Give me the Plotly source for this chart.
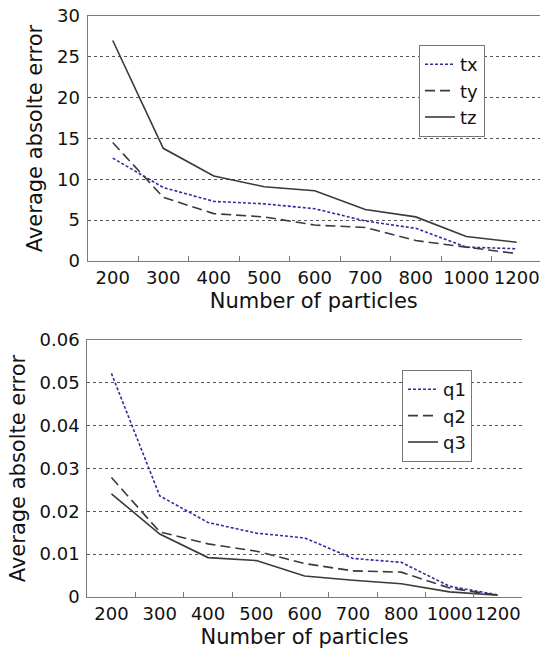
import plotly.graph_objects as go

categories = ["200", "300", "400", "500", "600", "700", "800", "1000", "1200"]

tx = [12.6, 9.0, 7.3, 7.0, 6.4, 4.9, 4.0, 1.7, 1.5]
ty = [14.5, 7.8, 5.8, 5.4, 4.4, 4.1, 2.5, 1.7, 0.9]
tz = [27.0, 13.8, 10.4, 9.1, 8.6, 6.3, 5.4, 3.0, 2.3]

q1 = [0.0522, 0.0236, 0.0174, 0.0149, 0.0138, 0.0090, 0.0081, 0.0025, 0.0005]
q2 = [0.0279, 0.0152, 0.0124, 0.0107, 0.0078, 0.0061, 0.0058, 0.0021, 0.0004]
q3 = [0.0241, 0.0147, 0.0092, 0.0085, 0.0049, 0.0039, 0.0031, 0.0012, 0.0004]

top_ticks = [0, 5, 10, 15, 20, 25, 30]
bottom_ticks = [0, 0.01, 0.02, 0.03, 0.04, 0.05, 0.06]
bottom_ticktext = ["0", "0.01", "0.02", "0.03", "0.04", "0.05", "0.06"]

W, H = 540, 649
FONT = "DejaVu Sans"
BLUE = "#2e2e9e"
DARK = "#3a3a3a"
FRAME = "#7a7a7a"
GRID = "#555555"

fig = go.Figure()

styles = [
    (BLUE, "3px,2px"),
    (DARK, "10px,5px"),
    (DARK, "solid"),
]

for (name, vals), (col, dash) in zip([("tx", tx), ("ty", ty), ("tz", tz)], styles):
    fig.add_trace(go.Scatter(x=categories, y=vals, name=name, mode="lines",
                             line=dict(color=col, width=1.6, dash=dash),
                             xaxis="x", yaxis="y", legend="legend"))

for (name, vals), (col, dash) in zip([("q1", q1), ("q2", q2), ("q3", q3)], styles):
    fig.add_trace(go.Scatter(x=categories, y=vals, name=name, mode="lines",
                             line=dict(color=col, width=1.6, dash=dash),
                             xaxis="x2", yaxis="y2", legend="legend2"))

xcommon = dict(type="category", categoryorder="array", categoryarray=categories,
               showline=True, linecolor=FRAME, linewidth=1, mirror=True,
               ticks="inside", ticklen=5, tickcolor=FRAME, tickson="boundaries",
               showgrid=False, zeroline=False, tickangle=0, automargin=False,
               tickfont=dict(family=FONT, size=18, color="#111"),
               title=dict(text="Number of particles", font=dict(family=FONT, size=21, color="#111"),
                          standoff=6))
ycommon = dict(showline=True, linecolor=FRAME, linewidth=1, mirror=False,
               ticks="", showgrid=True, gridcolor=GRID, gridwidth=1, griddash="dot",
               zeroline=False, ticklabelstandoff=3, automargin=False,
               tickfont=dict(family=FONT, size=18, color="#111"),
               title=dict(text="Average absolte error", font=dict(family=FONT, size=21, color="#111"),
                          standoff=8))

fig.update_layout(
    width=W, height=H,
    margin=dict(l=0, r=0, t=0, b=0),
    paper_bgcolor="white", plot_bgcolor="white",
    showlegend=True,
    xaxis=dict(xcommon, domain=[87.5 / W, 1.0], range=[-0.5, 8.46], anchor="y"),
    yaxis=dict(ycommon, domain=[(H - 261) / H, (H - 16) / H], range=[0, 30],
               tickvals=top_ticks, anchor="x"),
    xaxis2=dict(xcommon, domain=[87.3 / W, 522 / W], range=[-0.5, 8.5], anchor="y2"),
    yaxis2=dict(ycommon, domain=[(H - 597) / H, (H - 340) / H], range=[0, 0.06],
                tickvals=bottom_ticks, ticktext=bottom_ticktext, anchor="x2"),
    legend=dict(x=419 / W, y=(H - 45) / H, xanchor="left", yanchor="top",
                bgcolor="white", bordercolor="#777", borderwidth=1,
                font=dict(family=FONT, size=18, color="#111"), itemwidth=30,
                tracegroupgap=0),
    legend2=dict(x=402 / W, y=(H - 370) / H, xanchor="left", yanchor="top",
                 bgcolor="white", bordercolor="#777", borderwidth=1,
                 font=dict(family=FONT, size=18, color="#111"), itemwidth=30,
                 tracegroupgap=0),
)

fig.write_html("out.html")
